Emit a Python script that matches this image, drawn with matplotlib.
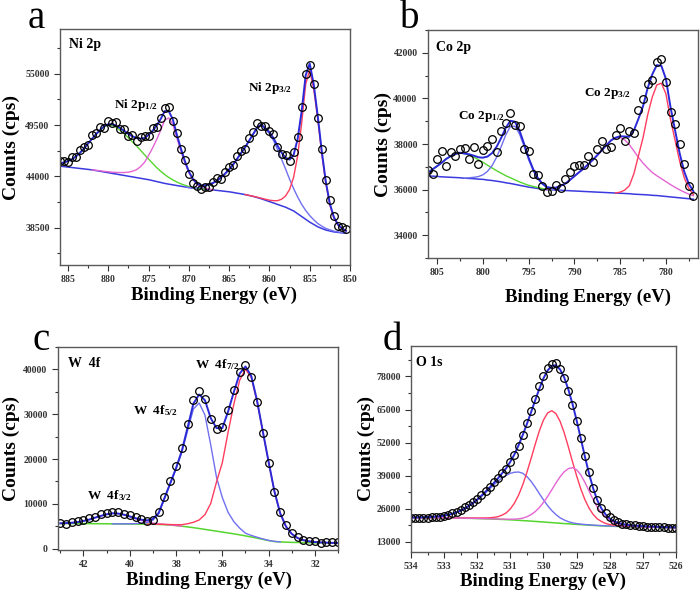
import numpy as np
import matplotlib.pyplot as plt
from matplotlib.ticker import MultipleLocator, FormatStrFormatter

plt.rcParams['font.family'] = ['Liberation Serif', 'DejaVu Serif']
plt.rcParams['font.weight'] = 'bold'
plt.rcParams['mathtext.fontset'] = 'custom'
plt.rcParams['mathtext.rm'] = 'Liberation Serif:bold'
plt.rcParams['mathtext.bf'] = 'Liberation Serif:bold'
plt.rcParams['mathtext.it'] = 'Liberation Serif:bold'
plt.rcParams['mathtext.default'] = 'bf'

# ---------------- (a) Ni 2p ----------------
ni_x = np.arange(886.0, 850.4, -0.5)
ni_bg = np.array([
    45100, 45050, 45000, 44950, 44900, 44850, 44800, 44750,
    44700, 44620, 44550, 44470, 44400, 44320, 44250, 44170,
    44100, 44020, 43950, 43870, 43800, 43720, 43650, 43550,
    43450, 43350, 43250, 43170, 43100, 43020, 42950, 42880,
    42800, 42750, 42700, 42670, 42650, 42600, 42550, 42500,
    42450, 42400, 42350, 42280, 42200, 42130, 42050, 41950,
    41850, 41730, 41600, 41450, 41300, 41150, 41000, 40850,
    40700, 40500, 40300, 40000, 39700, 39400, 39100, 38850,
    38600, 38420, 38250, 38150, 38050, 38000, 37950, 37900])
ni_sat1 = np.array([  # green, satellite of 2p1/2
    300, 450, 650, 900, 1250, 1700, 2200, 2800,
    3350, 3900, 4400, 4850, 5100, 5150, 5000, 4750,
    4450, 4100, 3750, 3400, 3000, 2600, 2200, 1850,
    1500, 1200, 950, 720, 530, 380, 260, 170,
    100, 60, 30, 10, 0, 0, 0, 0,
    0, 0, 0, 0, 0, 0, 0, 0,
    0, 0, 0, 0, 0, 0, 0, 0,
    0, 0, 0, 0, 0, 0, 0, 0,
    0, 0, 0, 0, 0, 0, 0, 0])
ni_p12 = np.array([  # pink, Ni 2p1/2
    0, 0, 0, 0, 0, 0, 0, 0,
    0, 30, 50, 70, 100, 130, 180, 240,
    320, 430, 600, 850, 1250, 1800, 2600, 3500,
    4500, 5600, 6800, 7100, 6500, 5100, 3800, 2600,
    1600, 900, 450, 200, 100, 50, 0, 0,
    0, 0, 0, 0, 0, 0, 0, 0,
    0, 0, 0, 0, 0, 0, 0, 0,
    0, 0, 0, 0, 0, 0, 0, 0,
    0, 0, 0, 0, 0, 0, 0, 0])
ni_sat2 = np.array([  # blue, satellite of 2p3/2
    0, 0, 0, 0, 0, 0, 0, 0,
    0, 0, 0, 0, 0, 0, 0, 0,
    0, 0, 0, 0, 0, 0, 0, 0,
    0, 0, 0, 0, 0, 0, 0, 0,
    10, 30, 70, 150, 300, 500, 750, 1050,
    1450, 1900, 2400, 3000, 3700, 4400, 5100, 5900,
    6700, 7500, 7900, 7600, 7300, 6700, 5900, 5000,
    4100, 3200, 2400, 1800, 1300, 950, 700, 500,
    350, 250, 170, 120, 80, 50, 30, 20])
ni_p32 = np.array([  # red, Ni 2p3/2
    0, 0, 0, 0, 0, 0, 0, 0,
    0, 0, 0, 0, 0, 0, 0, 0,
    0, 0, 0, 0, 0, 0, 0, 0,
    0, 0, 0, 0, 0, 0, 0, 0,
    0, 0, 0, 0, 0, 0, 0, 0,
    0, 0, 0, 0, 0, 0, 0, 10,
    20, 40, 60, 100, 150, 250, 400, 700,
    1200, 2100, 3600, 6200, 10000, 14500, 16300, 14500,
    11500, 8000, 5000, 2800, 1500, 800, 450, 250])
ni_resid = np.array([
    200, 100, -150, 250, -100, 300, 150, -200,
    350, 100, 250, -150, 300, 150, 400, -100,
    200, -250, 100, -300, 150, 200, -100, 250,
    -200, 150, 300, 400, -150, 200, -100, 150,
    -300, -400, -250, -350, -200, -300, 100, 250,
    -150, 200, 300, -100, 250, 150, -200, 300,
    200, 450, -150, 250, 100, 400, -200, -100,
    250, -150, 300, 200, 400, 150, -200, 100,
    -150, 300, 200, 350, 150, -200, 100, 200])

# ---------------- (b) Co 2p ----------------
co_x = np.arange(806.0, 776.9, -0.5)
co_bg = np.array([
    36600, 36590, 36580, 36560, 36550, 36540, 36530, 36520,
    36500, 36490, 36480, 36460, 36450, 36420, 36400, 36370,
    36340, 36300, 36270, 36230, 36190, 36150, 36110, 36080,
    36050, 36020, 36000, 35990, 35980, 35970, 35960, 35950,
    35940, 35930, 35920, 35910, 35900, 35890, 35880, 35870,
    35860, 35850, 35840, 35830, 35820, 35800, 35790, 35780,
    35770, 35750, 35740, 35720, 35700, 35680, 35660, 35640,
    35620, 35600, 35580])
co_sat1 = np.array([  # green
    150, 300, 450, 620, 800, 930, 1030, 1100,
    1080, 1030, 950, 850, 750, 650, 550, 460,
    380, 310, 250, 200, 150, 110, 80, 60,
    40, 25, 10, 0, 0, 0, 0, 0,
    0, 0, 0, 0, 0, 0, 0, 0,
    0, 0, 0, 0, 0, 0, 0, 0,
    0, 0, 0, 0, 0, 0, 0, 0,
    0, 0, 0])
co_p12 = np.array([  # blue, Co 2p1/2
    0, 0, 0, 0, 0, 0, 0, 0,
    0, 30, 60, 110, 200, 380, 650, 1050,
    1550, 2100, 2500, 2550, 2250, 1750, 1200, 750,
    420, 220, 100, 40, 10, 0, 0, 0,
    0, 0, 0, 0, 0, 0, 0, 0,
    0, 0, 0, 0, 0, 0, 0, 0,
    0, 0, 0, 0, 0, 0, 0, 0,
    0, 0, 0])
co_sat2 = np.array([  # pink
    0, 0, 0, 0, 0, 0, 0, 0,
    0, 0, 0, 0, 0, 0, 0, 0,
    0, 0, 0, 0, 0, 0, 0, 0,
    0, 0, 0, 50, 100, 200, 300, 470,
    650, 830, 1000, 1200, 1400, 1620, 1850, 2080,
    2300, 2430, 2450, 2350, 2150, 1900, 1620, 1380,
    1180, 1000, 870, 760, 650, 540, 440, 350,
    270, 200, 150])
co_p32 = np.array([  # red, Co 2p3/2
    0, 0, 0, 0, 0, 0, 0, 0,
    0, 0, 0, 0, 0, 0, 0, 0,
    0, 0, 0, 0, 0, 0, 0, 0,
    0, 0, 0, 0, 0, 0, 0, 0,
    0, 0, 0, 0, 0, 0, 0, 0,
    0, 0, 50, 150, 350, 900, 1700, 2500,
    3500, 4300, 4850, 4950, 4500, 3400, 2500, 1600,
    900, 450, 200])
co_resid = np.array([
    100, -200, 300, 500, -300, 200, -100, 150,
    250, -200, 400, -300, 350, 450, 600, -250,
    300, 200, 350, -150, 200, -250, 300, -200,
    150, -100, -200, -150, 100, -100, 200, 350,
    450, 300, 150, 350, -100, 250, 400, -150,
    -300, 100, 350, -200, 250, -100, 400, 300,
    200, -250, 150, 300, -150, -200, 300, 400,
    350, -100, -200])

# ---------------- (c) W 4f ----------------
w_x = np.arange(43.0, 30.9, -0.25)
w_bg = np.array([
    5600, 5600, 5600, 5600, 5600, 5580, 5570, 5560,
    5550, 5530, 5520, 5510, 5500, 5490, 5470, 5460,
    5440, 5400, 5350, 5260, 5150, 5000, 4850, 4680,
    4500, 4300, 4100, 3900, 3700, 3500, 3300, 3080,
    2850, 2600, 2350, 2070, 1800, 1600, 1500, 1450,
    1400, 1380, 1350, 1330, 1300, 1290, 1280, 1260,
    1250])
w_p32 = np.array([  # pink, W 4f3/2
    50, 100, 180, 330, 580, 900, 1350, 1750,
    2100, 2350, 2300, 2050, 1650, 1200, 800, 500,
    280, 150, 80, 40, 20, 0, 0, 0,
    0, 0, 0, 0, 0, 0, 0, 0,
    0, 0, 0, 0, 0, 0, 0, 0,
    0, 0, 0, 0, 0, 0, 0, 0,
    0])
w_p52 = np.array([  # blue, W 4f5/2
    0, 0, 0, 0, 0, 0, 0, 0,
    0, 0, 10, 20, 50, 100, 200, 350,
    900, 2400, 5800, 9200, 12600, 16500, 21500, 26500,
    28000, 25500, 19000, 12000, 7700, 4600, 2700, 1500,
    600, 350, 200, 100, 50, 20, 0, 0,
    0, 0, 0, 0, 0, 0, 0, 0,
    0])
w_p72 = np.array([  # red, W 4f7/2
    0, 0, 0, 0, 0, 0, 0, 0,
    0, 0, 0, 0, 0, 0, 0, 0,
    20, 40, 70, 120, 200, 350, 700, 1200,
    1900, 3300, 6000, 11000, 15500, 22500, 29000, 34500,
    37200, 35600, 30500, 24000, 17500, 11200, 6400, 3500,
    1900, 1000, 550, 300, 180, 100, 60, 30,
    20])
w_resid = np.array([
    100, -150, 200, 150, 250, 300, 200, 350,
    400, 300, 350, 250, 300, 200, 150, -100,
    -200, 100, 300, 400, 500, 600, 700, 800,
    700, 300, -200, -300, 200, 400, 500, 300,
    400, -200, -300, -400, -300, -200, 200, 400,
    300, 200, 100, 150, 200, -100, 150, 200,
    300])

# ---------------- (d) O 1s ----------------
o_x = np.arange(534.0, 525.9, -0.125)
o_bg = np.array([
    22500, 22490, 22480, 22470, 22450, 22440, 22430, 22415,
    22400, 22380, 22360, 22330, 22300, 22265, 22230, 22190,
    22150, 22100, 22050, 22000, 21950, 21880, 21800, 21730,
    21650, 21550, 21450, 21350, 21250, 21140, 21030, 20910,
    20800, 20670, 20550, 20420, 20300, 20190, 20080, 19960,
    19850, 19750, 19650, 19550, 19450, 19370, 19300, 19220,
    19150, 19100, 19050, 19000, 18950, 18910, 18880, 18840,
    18800, 18760, 18720, 18690, 18650, 18610, 18580, 18540,
    18500])
o_blue = np.array([
    30, 50, 80, 120, 180, 270, 400, 580,
    830, 1150, 1600, 2150, 2850, 3750, 4750, 5900,
    7250, 8700, 10250, 11850, 13450, 14950, 16300, 17400,
    18300, 18800, 19000, 18600, 17400, 15650, 13450, 11050,
    8700, 6550, 4750, 3300, 2150, 1400, 850, 500,
    320, 220, 160, 130, 110, 95, 85, 75,
    70, 65, 60, 55, 50, 48, 45, 42,
    40, 38, 35, 33, 32, 30, 30, 28,
    26])
o_red = np.array([
    30, 35, 40, 45, 50, 55, 60, 65,
    70, 80, 90, 100, 120, 140, 160, 190,
    230, 280, 350, 450, 650, 1000, 1700, 2650,
    4300, 6700, 9950, 14100, 19100, 24600, 30300, 35700,
    40100, 43000, 44000, 43000, 40100, 35700, 30300, 24600,
    19100, 14100, 9950, 6700, 4300, 2650, 1700, 1000,
    650, 450, 350, 280, 230, 190, 160, 140,
    120, 100, 90, 80, 70, 65, 60, 55,
    50])
o_pink = np.array([
    10, 10, 10, 12, 12, 14, 15, 16,
    18, 20, 22, 24, 25, 30, 35, 40,
    45, 50, 60, 70, 90, 110, 140, 180,
    250, 380, 600, 980, 1600, 2550, 3850, 5550,
    7700, 10150, 12900, 15700, 18250, 20350, 21700, 22200,
    21500, 19600, 16750, 13450, 10150, 7200, 5000, 3500,
    2300, 1500, 1000, 700, 500, 380, 300, 240,
    200, 170, 140, 120, 100, 90, 80, 70,
    60])
o_resid = np.array([
    -150, -200, -100, -250, -150, -200, -100, -150,
    0, 100, 200, 300, 400, 500, 400, 300,
    200, 300, 400, 300, 200, 100, 0, -200,
    -300, -400, -200, 100, 300, 500, 700, 900,
    1000, 800, 900, 700, 300, -200, -500, -300,
    -100, 200, 400, 500, 300, 200, 300, 500,
    400, 300, 200, 150, 100, 150, 100, 50,
    0, -50, -100, -50, -150, -100, -200, -150,
    -200])

ENV = '#2a2ad8'
BLUE_BG = '#3a3ae0'
GREEN = '#55d52e'
PINK = '#e465d4'
RED = '#ff3d5e'
BLUE = '#7070f0'


def draw(ax, x, bg, comps, resid, bg_color):
    fit = bg + sum(c for c, col in comps)
    ax.plot(x, bg, color=bg_color, lw=1.1)
    for c, col in comps:
        on = np.convolve(c > 0, [1, 1, 1], mode='same') > 0
        ax.plot(x, np.where(on, bg + c, np.nan), color=col, lw=1.0)
    ax.plot(x, fit, color=ENV, lw=1.4)
    ax.plot(x, fit + resid, 'o', ms=5.5, mfc='none', mec='black', mew=0.9)


def style(ax, xlim, ylim, xmaj, xmin, ymaj, ymin, ylab_x, xlab_xy):
    ax.set_xlim(xlim)
    ax.set_ylim(ylim)
    ax.xaxis.set_major_locator(MultipleLocator(xmaj))
    ax.xaxis.set_minor_locator(MultipleLocator(xmin))
    ax.yaxis.set_major_locator(MultipleLocator(ymaj))
    ax.yaxis.set_minor_locator(MultipleLocator(ymin))
    ax.xaxis.set_major_formatter(FormatStrFormatter('%d'))
    ax.yaxis.set_major_formatter(FormatStrFormatter('%d'))
    ax.tick_params(which='both', direction='out', top=False, right=False,
                   colors='#333333', labelsize=7)
    ax.tick_params(which='major', length=4, width=0.8)
    ax.tick_params(which='minor', length=2, width=0.8)
    for lab in ax.get_xticklabels() + ax.get_yticklabels():
        lab.set_fontweight('bold')
    for s in ax.spines.values():
        s.set_color('#5a5a5a')
        s.set_linewidth(1.0)
    ax.set_xlabel('Binding Energy (eV)', fontsize=13.5, fontweight='bold')
    ax.set_ylabel('Counts (cps)', fontsize=14, fontweight='bold')
    ax.yaxis.set_label_coords(ylab_x, 0.5)
    ax.xaxis.set_label_coords(xlab_xy[0], xlab_xy[1])


fig = plt.figure(figsize=(7, 5.9), dpi=100)
ax_a = fig.add_axes([0.0857, 0.5508, 0.4143, 0.4])
ax_b = fig.add_axes([0.6114, 0.5627, 0.3857, 0.3864])
ax_c = fig.add_axes([0.0829, 0.0678, 0.4, 0.3441])
ax_d = fig.add_axes([0.5871, 0.0644, 0.3786, 0.3492])

draw(ax_a, ni_x, ni_bg,
     [(ni_sat1, GREEN), (ni_p12, PINK), (ni_sat2, BLUE), (ni_p32, RED)],
     ni_resid, BLUE_BG)
style(ax_a, (886, 850), (34500, 59800), 5, 2.5, 5500, 2750, -0.138, (0.53, -0.092))
ax_a.text(0.03, 0.96, 'Ni 2p', transform=ax_a.transAxes, fontsize=10, va='top')
ax_a.text(879.3, 51300, r'Ni 2p$_{1/2}$', fontsize=9.5)
ax_a.text(862.6, 53200, r'Ni 2p$_{3/2}$', fontsize=9.5)

draw(ax_b, co_x, co_bg,
     [(co_sat1, GREEN), (co_p12, BLUE), (co_sat2, PINK), (co_p32, RED)],
     co_resid, BLUE_BG)
style(ax_b, (806, 776.5), (33000, 43000), 5, 2.5, 2000, 1000, -0.133, (0.593, -0.135))
ax_b.text(0.03, 0.95, 'Co 2p', transform=ax_b.transAxes, fontsize=10, va='top')
ax_b.text(802.7, 39100, r'Co 2p$_{1/2}$', fontsize=9.5)
ax_b.text(788.9, 40100, r'Co 2p$_{3/2}$', fontsize=9.5)

draw(ax_c, w_x, w_bg,
     [(w_p32, PINK), (w_p52, BLUE), (w_p72, RED)],
     w_resid, GREEN)
style(ax_c, (43.1, 31), (-300, 45000), 2, 1, 10000, 5000, -0.136, (0.54, -0.105))
ax_c.text(0.035, 0.95, 'W  4f', transform=ax_c.transAxes, fontsize=10, va='top')
ax_c.text(37.2, 40300, r'W  4f$_{7/2}$', fontsize=9.5)
ax_c.text(39.86, 29950, r'W  4f$_{5/2}$', fontsize=9.5)
ax_c.text(41.84, 10950, r'W  4f$_{3/2}$', fontsize=9.5)

draw(ax_d, o_x, o_bg,
     [(o_blue, BLUE), (o_red, RED), (o_pink, PINK)],
     o_resid, GREEN)
style(ax_d, (534, 526), (9000, 90000), 1, 0.5, 13000, 6500, -0.136, (0.498, -0.1))
ax_d.text(0.02, 0.95, 'O 1s', transform=ax_d.transAxes, fontsize=10, va='top')

fig.text(0.040, 0.9525, 'a', fontsize=28, fontweight='normal')
fig.text(0.571, 0.9525, 'b', fontsize=28, fontweight='normal')
fig.text(0.047, 0.4068, 'c', fontsize=28, fontweight='normal')
fig.text(0.547, 0.4068, 'd', fontsize=28, fontweight='normal')

fig.savefig('out.png', dpi=100)
